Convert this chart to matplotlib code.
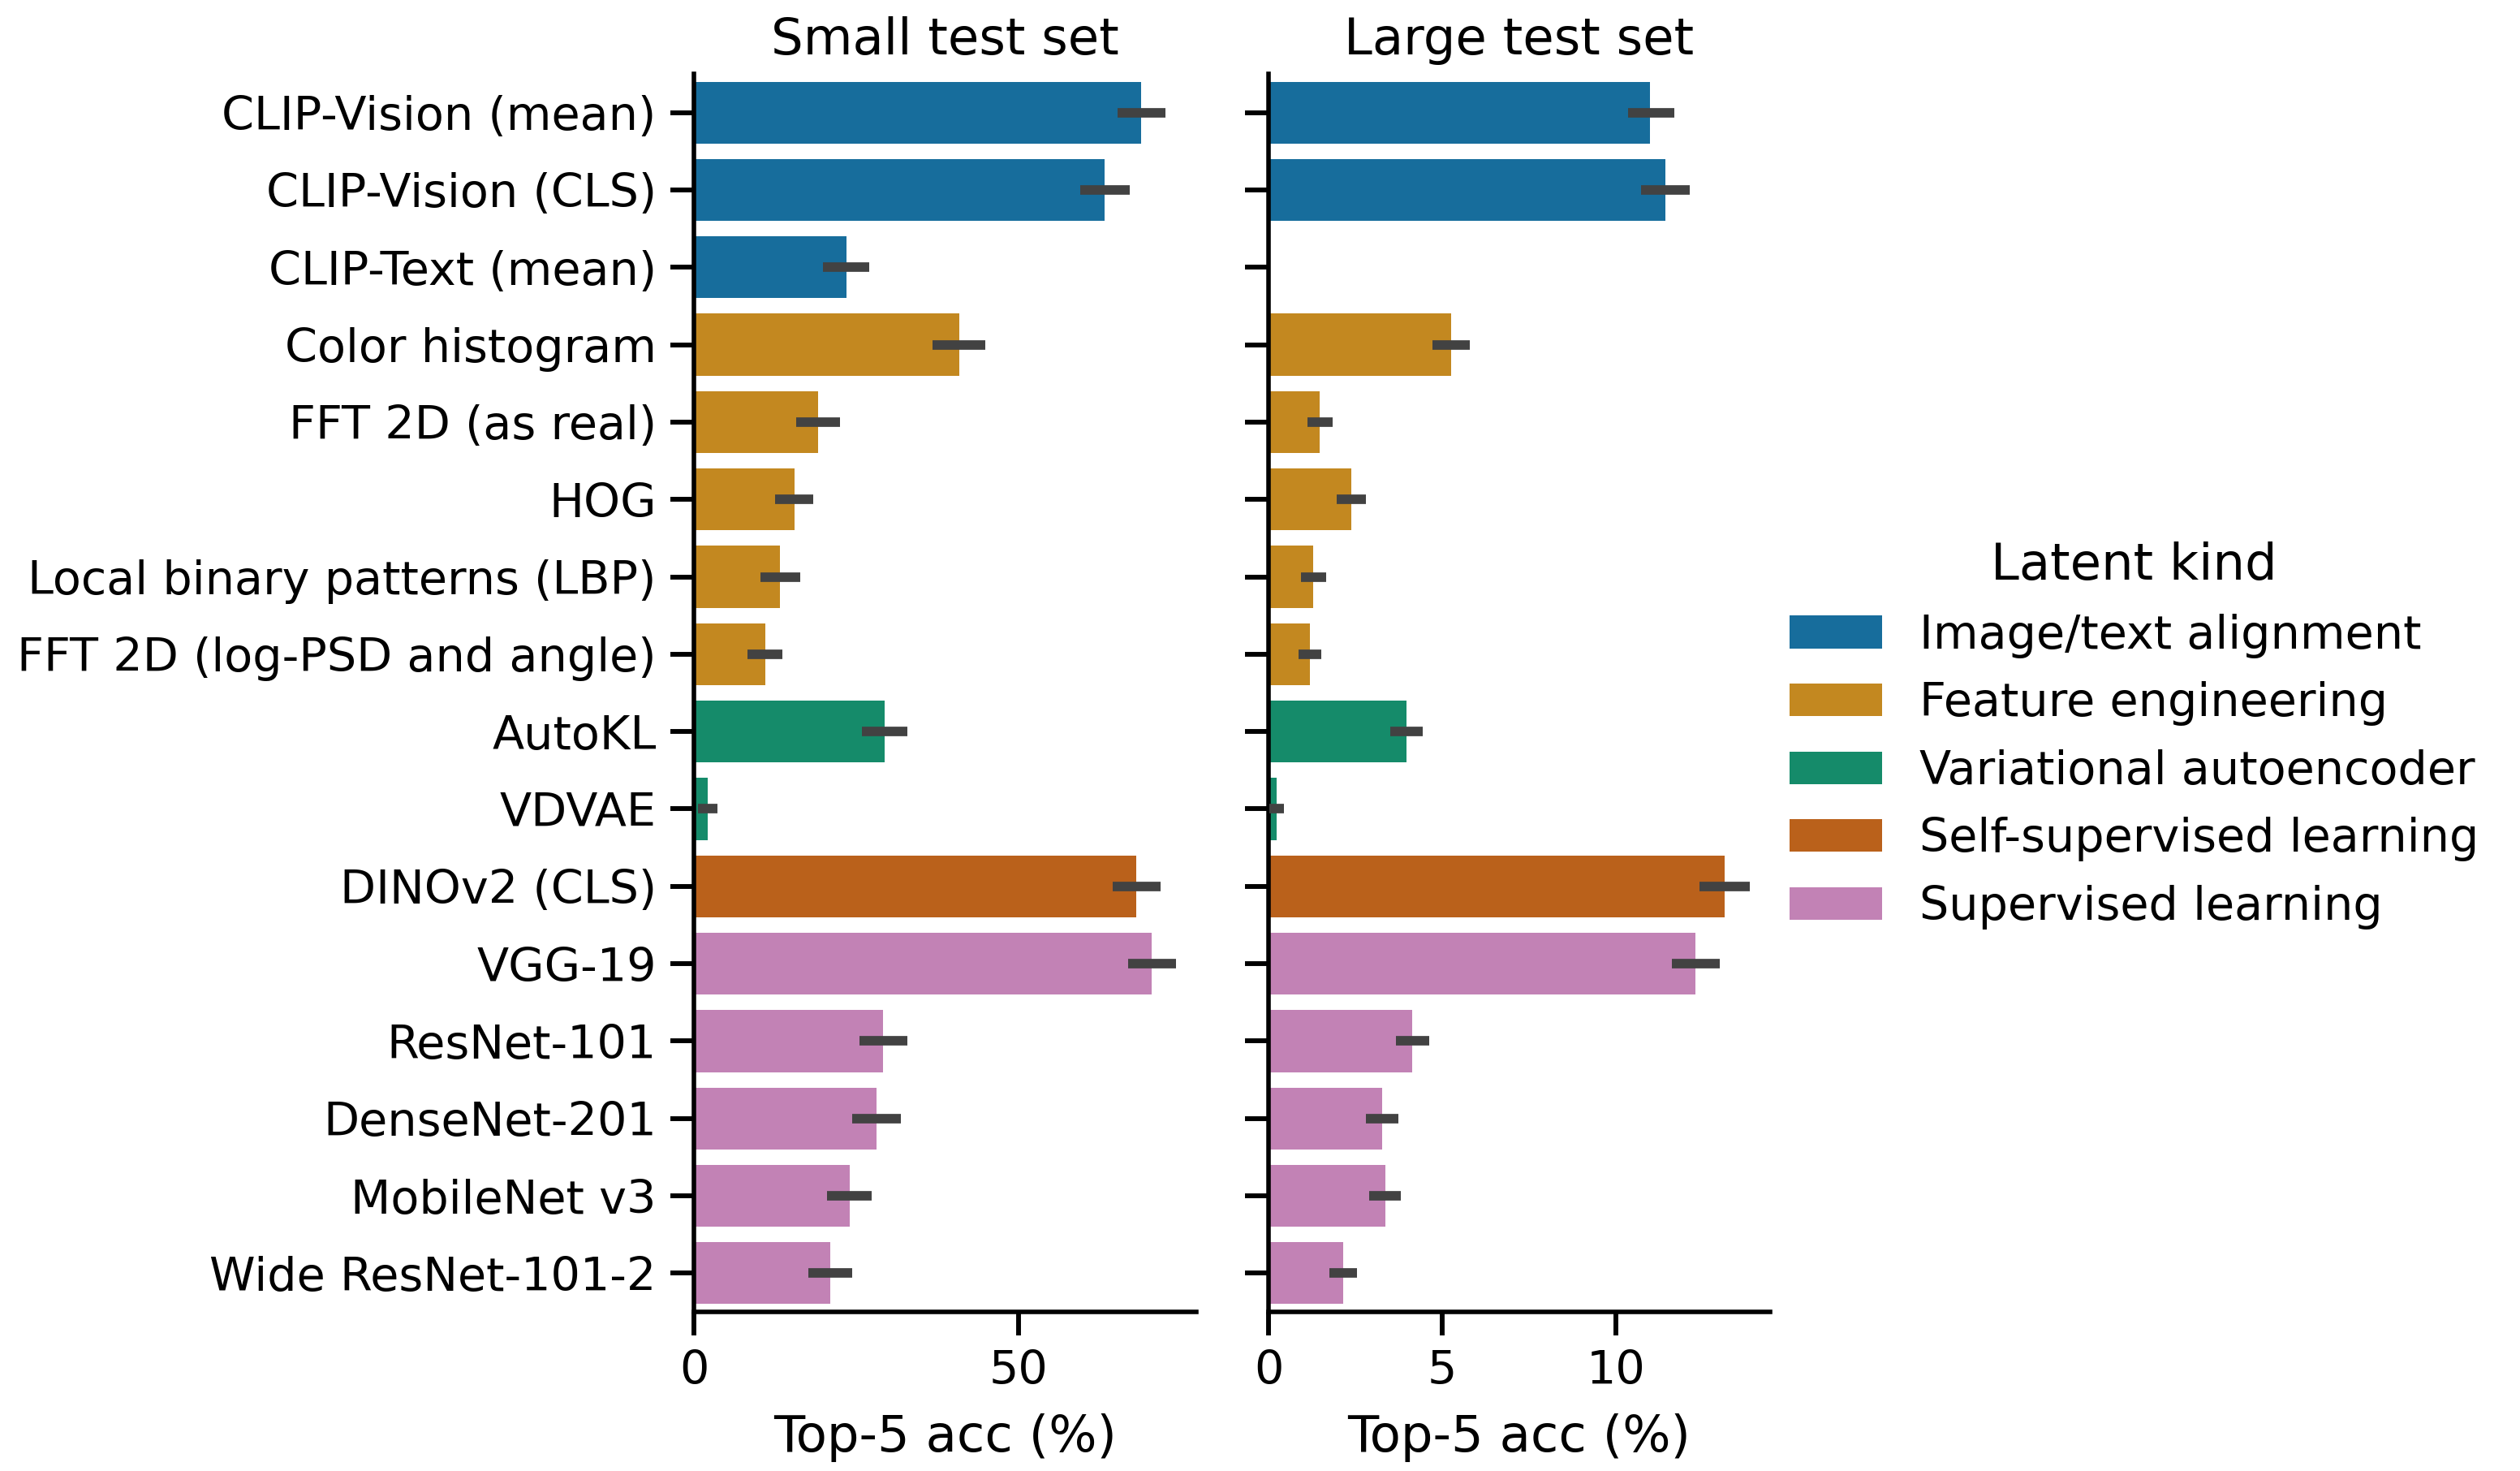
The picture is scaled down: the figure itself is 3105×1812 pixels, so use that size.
import colorsys
import numpy as np
import matplotlib
matplotlib.use("Agg")
import matplotlib.pyplot as plt
from matplotlib.colors import to_rgb
from matplotlib.patches import Patch

models = ["CLIP-Vision (mean)", "CLIP-Vision (CLS)", "CLIP-Text (mean)", "Color histogram",
          "FFT 2D (as real)", "HOG", "Local binary patterns (LBP)", "FFT 2D (log-PSD and angle)",
          "AutoKL", "VDVAE", "DINOv2 (CLS)", "VGG-19", "ResNet-101", "DenseNet-201",
          "MobileNet v3", "Wide ResNet-101-2"]
kinds = ["Image/text alignment", "Image/text alignment", "Image/text alignment",
         "Feature engineering", "Feature engineering", "Feature engineering",
         "Feature engineering", "Feature engineering",
         "Variational autoencoder", "Variational autoencoder",
         "Self-supervised learning",
         "Supervised learning", "Supervised learning", "Supervised learning",
         "Supervised learning", "Supervised learning"]
kind_order = ["Image/text alignment", "Feature engineering", "Variational autoencoder",
              "Self-supervised learning", "Supervised learning"]

small_acc = [68.9, 63.3, 23.5, 40.9, 19.1, 15.5, 13.3, 11.0, 29.4, 2.1, 68.1, 70.5, 29.1, 28.1, 24.0, 21.0]
small_lo = [65.3, 59.5, 19.9, 36.8, 15.8, 12.5, 10.3, 8.2, 25.9, 0.6, 64.5, 66.9, 25.5, 24.4, 20.5, 17.6]
small_hi = [72.6, 67.2, 27.0, 44.9, 22.5, 18.4, 16.4, 13.6, 32.9, 3.6, 71.9, 74.3, 32.9, 31.9, 27.4, 24.4]

large_acc = [11.0, 11.43, np.nan, 5.26, 1.47, 2.38, 1.28, 1.19, 3.97, 0.23, 13.13, 12.31, 4.13, 3.27, 3.36, 2.15]
large_lo = [10.35, 10.74, np.nan, 4.72, 1.12, 1.96, 0.93, 0.86, 3.51, 0.02, 12.42, 11.61, 3.67, 2.80, 2.89, 1.75]
large_hi = [11.68, 12.13, np.nan, 5.80, 1.85, 2.80, 1.67, 1.53, 4.45, 0.44, 13.86, 13.01, 4.62, 3.74, 3.80, 2.55]

panel_titles = ["Small test set", "Large test set"]
x_label = "Top-5 acc (%)"
palette = ["#0173b2", "#de8f05", "#029e73", "#d55e00", "#cc78bc"]


def desat(c, p=0.75):
    h, l, s = colorsys.rgb_to_hls(*to_rgb(c))
    return colorsys.hls_to_rgb(h, l, s * p)


kind_color = {k: desat(c) for k, c in zip(kind_order, palette)}

DPI = 250
fig = plt.figure(figsize=(3105 / DPI, 1812 / DPI), dpi=DPI)
plt.rcParams["font.family"] = ["DejaVu Sans"]

W, H = 3105, 1812
ax_top, ax_bot = 91, 1616
axes_px = [(855, 1474), (1563, 2181)]
xlims = [(0, 77.4), (0, 14.45)]
xticks = [[0, 50], [0, 5, 10]]

datasets = [(small_acc, small_lo, small_hi), (large_acc, large_lo, large_hi)]
y = np.arange(len(models))

for i, ((x0, x1), (acc, lo, hi)) in enumerate(zip(axes_px, datasets)):
    ax = fig.add_axes([x0 / W, 1 - ax_bot / H, (x1 - x0) / W, (ax_bot - ax_top) / H])
    cols = [kind_color[k] for k in kinds]
    ax.barh(y, acc, height=0.8, color=cols, linewidth=0)
    for yy, a, b in zip(y, lo, hi):
        if np.isnan(a):
            continue
        ax.plot([a, b], [yy, yy], color="#424242", linewidth=3.375, solid_capstyle="butt", zorder=3)
    ax.set_ylim(len(models) - 0.5, -0.5)
    ax.set_xlim(*xlims[i])
    ax.set_xticks(xticks[i])
    ax.set_yticks(y)
    if i == 0:
        ax.set_yticklabels(models)
    else:
        ax.set_yticklabels([])
    ax.spines["top"].set_visible(False)
    ax.spines["right"].set_visible(False)
    for s in ["left", "bottom"]:
        ax.spines[s].set_linewidth(1.6)
    ax.tick_params(axis="both", width=1.7, length=8.3, labelsize=16.5, pad=5.0)
    ax.set_xlabel(x_label, fontsize=18, labelpad=7)
    ax.set_title(panel_titles[i], fontsize=18, pad=7)

handles = [Patch(facecolor=kind_color[k], edgecolor="none", label=k) for k in kind_order]
leg = fig.legend(handles=handles, title="Latent kind", loc="center left",
                 bbox_to_anchor=(2153 / W, 0.5), frameon=False, fontsize=16.5,
                 title_fontsize=18, labelspacing=0.5)

fig.savefig("out.png", dpi=DPI)
